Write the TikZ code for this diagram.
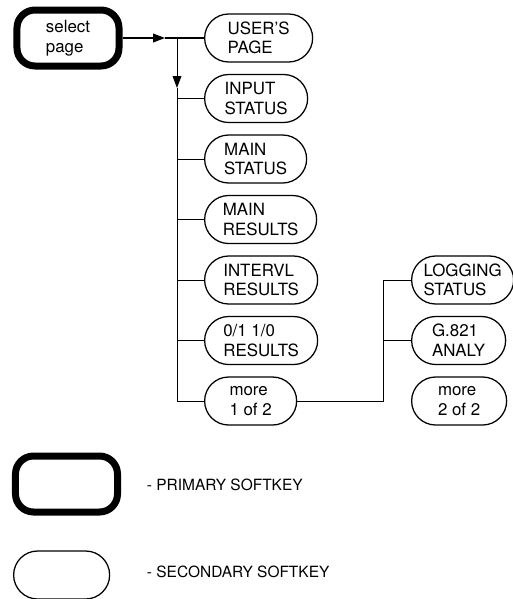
\documentclass[tikz,border=0pt]{standalone}
\usepackage{fontspec}
\setmainfont{TeX Gyre Heros}
\usetikzlibrary{arrows.meta,positioning,calc,shapes.misc}

\tikzset{
  softkey/.style={draw, line width=0.9pt, rounded rectangle, minimum height=12mm, align=left, inner sep=1mm, anchor=west},
  primkey/.style={draw, line width=1.75mm, rounded corners=4.5mm, minimum width=25.5mm, minimum height=14mm, align=left},
  link/.style={line width=0.7pt},
  tip/.style={-{Triangle[length=3mm, width=2.2mm]}}
}

\begin{document}
\begin{tikzpicture}[x=0.25mm, y=-0.25mm, font=\fontsize{12}{14}\selectfont]
  \useasboundingbox (0,0) rectangle (512,599);

  % Primary softkey
  \node[primkey] (select) at (68,38) {select\\page};

  % Secondary softkeys, main column
  \foreach \name/\keywd/\txt [count=\i from 0] in {
      user/29/{USER'S\\PAGE},
      input/27.75/{INPUT\\STATUS},
      mainst/27.5/{MAIN\\STATUS},
      mainres/30/{MAIN\\RESULTS},
      intervl/30.25/{INTERVL\\RESULTS},
      zeroone/30.25/{0/1 1/0\\RESULTS},
      more1/25/{more\\1 of 2}} {
    \node[softkey, minimum width=\keywd mm] (\name) at (204, 38+60.5*\i) {\txt};
  }

  % Secondary softkeys, second page
  \node[softkey, minimum width=27.5mm] (logging) at (411,280) {LOGGING\\STATUS};
  \node[softkey, minimum width=25.5mm] (g821) at (411,340.5) {G.821\\ANALY};
  \node[softkey, minimum width=25.75mm] (more2) at (411,401) {more\\2 of 2};

  % Trunk from primary key
  \coordinate (tipr) at (165,38);
  \coordinate (trunk) at (177,38);
  \coordinate (tipd) at (177,88);
  \draw[link, line width=1pt, tip] (select.east) -- (tipr);
  \draw[link, line width=1pt] (tipr) -- (user.west);
  \draw[link, tip] (trunk) -- (tipd);
  \draw[link] (tipd) -- (trunk |- more1.west);
  \foreach \name in {input,mainst,mainres,intervl,zeroone,more1}
    \draw[link] (trunk |- \name.west) -- (\name.west);

  % Branch to second page
  \coordinate (split) at (383,280);
  \draw[link] (more1.east) -| (split |- logging.west) -- (logging.west);
  \draw[link] (split |- g821.west) -- (g821.west);

  % Legend
  \node[primkey] (legprim) at (66.5,484) {};
  \node[anchor=west, font=\fontsize{11}{14}\selectfont] (legprimtxt) at (142,485) {- PRIMARY SOFTKEY};
  \node[softkey, minimum width=26mm] (legsec) at (13,575) {};
  \node[anchor=west, font=\fontsize{11}{14}\selectfont] (legsectxt) at (142,572) {- SECONDARY SOFTKEY};
\end{tikzpicture}
\end{document}
